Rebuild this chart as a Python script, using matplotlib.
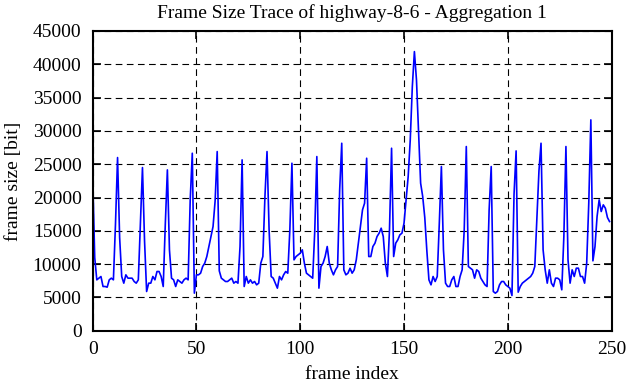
import matplotlib
matplotlib.use('Agg')
import matplotlib.pyplot as plt
import numpy as np

# frame sizes in bit (frames 0..249)
frame_size = [
    23400, 11000, 7650, 7900, 8150, 6650, 6650, 6550, 7650, 7900,
    7650, 16000, 26000, 14000, 8150, 7150, 8400, 7900, 7900, 7900,
    7400, 7150, 7650, 16150, 24500, 13500, 5900, 7150, 7150, 8150,
    7650, 8900, 8900, 8150, 6650, 16000, 24150, 12150, 7900, 7650,
    6650, 7650, 7400, 7150, 7650, 7900, 7650, 19650, 26650, 5650,
    8400, 8400, 8650, 9650, 10150, 11150, 12650, 14150, 15650, 19500,
    26900, 9000, 7900, 7650, 7400, 7400, 7650, 7900, 7150, 7400,
    7150, 12650, 25650, 6650, 8150, 7150, 7650, 7150, 7400, 6900,
    7150, 10150, 11150, 20150, 26900, 15150, 8150, 7900, 7150, 6400,
    8150, 7650, 8400, 8900, 8650, 15150, 25150, 10650, 11150, 11400,
    11650, 12150, 10150, 8650, 8400, 8150, 7900, 15000, 26150, 6400,
    9650, 10150, 11150, 12650, 10150, 9150, 8400, 9150, 9650, 21150,
    28150, 9150, 8400, 8650, 9400, 8650, 9150, 10650, 13150, 15650,
    18150, 19150, 25900, 11150, 11150, 12650, 13150, 14150, 14650, 15400,
    14150, 10150, 8150, 15150, 27400, 11150, 13150, 13650, 14400, 14650,
    16150, 19650, 23150, 28650, 36650, 41900, 37650, 30000, 22150, 20150,
    17000, 12000, 7650, 6900, 8150, 7400, 8150, 16150, 24650, 12150,
    7150, 6650, 6650, 7650, 8150, 6650, 6650, 8150, 9150, 15150,
    27650, 9650, 9400, 9150, 7900, 9150, 8900, 7900, 7400, 6900,
    6650, 18150, 24650, 5900, 5650, 5900, 6900, 7400, 7400, 6900,
    6650, 6400, 5300, 20500, 27000, 5800, 6650, 7150, 7400, 7650,
    7900, 8150, 8650, 9650, 16650, 24000, 28150, 12150, 9150, 7150,
    9150, 7150, 6650, 7900, 7900, 7650, 6150, 14150, 27650, 10650,
    7150, 9150, 8150, 9400, 9400, 8150, 8150, 7150, 10150, 19150,
    31650, 10500, 12650, 17150, 19650, 17900, 18900, 18400, 17000, 16400,
]
frame_index = np.arange(len(frame_size))

x_ticks = [0, 50, 100, 150, 200, 250]
y_ticks = list(range(0, 45001, 5000))

plt.rcParams['font.family'] = ['Liberation Serif', 'DejaVu Serif']
plt.rcParams['font.size'] = 14

fig = plt.figure(figsize=(6.26, 3.82), dpi=100)
ax = fig.add_axes([0.148, 0.134, 0.829, 0.785])

ax.plot(frame_index, frame_size, color='#0000ff', lw=1.2)

ax.set_xlim(0, 250)
ax.set_ylim(0, 45000)
ax.set_xticks(x_ticks)
ax.set_yticks(y_ticks)
ax.tick_params(direction='in', length=6, width=1.2, top=True, right=True,
               labelsize=14, pad=8)
ax.tick_params(axis='x', pad=7)
for s in ax.spines.values():
    s.set_linewidth(1.5)

ax.grid(True, color='black', lw=0.8, linestyle=(0, (6, 4)))

ax.set_title('Frame Size Trace of highway-8-6 - Aggregation 1', fontsize=14, pad=9)
ax.set_xlabel('frame index', fontsize=14, labelpad=6)
ax.set_ylabel('frame size [bit]', fontsize=14, labelpad=8)

fig.savefig('out.png', dpi=100)
